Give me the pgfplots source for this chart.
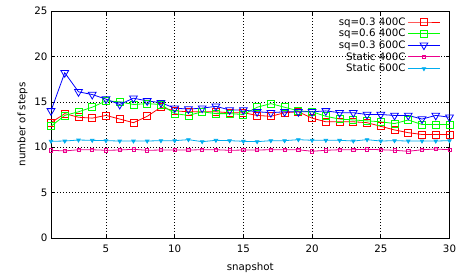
\documentclass[border=0pt]{standalone}
\usepackage{fontspec}
\setmainfont{DejaVu Sans}
\usepackage{pgfplots}
\pgfplotsset{compat=1.18}
\usepackage{pgfplotstable}

\pgfplotstableread{
x red green blue mag cyan
1 12.7 12.3 14.0 9.66 10.65
2 13.7 13.5 18.2 9.59 10.68
3 13.3 13.9 16.1 9.72 10.79
4 13.2 14.4 15.8 9.72 10.76
5 13.5 15.1 15.3 9.66 10.72
6 13.1 15.0 14.7 9.69 10.68
7 12.7 14.7 15.4 9.77 10.68
8 13.4 14.8 15.1 9.66 10.68
9 14.4 14.7 14.9 9.69 10.72
10 14.0 13.7 14.3 9.69 10.72
11 13.9 13.5 14.2 9.69 10.83
12 13.9 13.9 14.3 9.72 10.61
13 13.9 13.7 14.5 9.72 10.76
14 13.8 13.7 14.1 9.66 10.72
15 13.8 13.6 14.1 9.69 10.65
16 13.5 14.4 13.9 9.69 10.61
17 13.4 14.8 13.8 9.72 10.72
18 13.8 14.4 13.9 9.72 10.72
19 13.9 14.0 13.9 9.72 10.83
20 13.2 13.9 13.9 9.55 10.76
21 12.8 13.4 14.0 9.66 10.76
22 12.8 13.1 13.8 9.72 10.76
23 12.8 13.0 13.8 9.72 10.68
24 12.7 12.9 13.6 9.77 10.83
25 12.3 12.8 13.6 9.72 10.68
26 11.9 12.6 13.5 9.66 10.72
27 11.6 13.0 13.5 9.55 10.68
28 11.4 12.5 13.1 9.72 10.68
29 11.4 12.5 13.5 9.80 10.68
30 11.4 12.5 13.3 9.72 10.72
}\data

\begin{document}
\begin{tikzpicture}
\begin{axis}[
  scale only axis, width=398.5bp, height=227bp,
  at={(0,0)}, anchor=south west,
  xmin=1, xmax=30, ymin=0, ymax=25,
  xtick={5,10,...,30}, ytick={0,5,...,25},
  grid=major,
  major grid style={black, dash pattern=on 1bp off 2bp, line width=0.6pt},
  axis line style={black, line width=0.9pt},
  tick style={black, line width=0.6pt}, major tick length=4bp,
  tick align=inside,
  font=\fontsize{10.3}{12}\selectfont,
  /pgf/number format/assume math mode=true,
  xticklabel style={yshift=-3.5bp},
  xlabel={snapshot}, ylabel={number of steps},
  xlabel style={yshift=-3bp},
  legend plot pos=right,
  legend cell align=right,
  legend style={at={(axis description cs:0.985,0.99)}, anchor=north east,
    draw=none, fill=none, row sep=-1.5bp, font=\fontsize{10.3}{12}\selectfont},
  legend image code/.code={\draw[mark repeat=2,mark phase=2] plot coordinates {(0bp,0bp) (16bp,0bp) (32bp,0bp)};},
  every axis plot/.append style={line width=0.8pt},
]
\addplot[red, mark=square, mark size=3.5bp, mark options={solid, line width=0.8pt}] table[x=x,y=red] {\data};
\addlegendentry{sq=0.3 400C}
\addplot[green, mark=square, mark size=3.5bp, mark options={solid, line width=0.8pt}] table[x=x,y=green] {\data};
\addlegendentry{sq=0.6 400C}
\addplot[blue, mark=triangle, mark size=4.5bp, mark options={solid, rotate=180, line width=0.8pt}] table[x=x,y=blue] {\data};
\addlegendentry{sq=0.3 600C}
\addplot[magenta, mark=square, mark size=1.6bp, mark options={solid, line width=0.7pt}] table[x=x,y=mag] {\data};
\addlegendentry{Static 400C}
\addplot[cyan, mark=triangle*, mark size=2bp, mark options={solid, rotate=180}] table[x=x,y=cyan] {\data};
\addlegendentry{Static 600C}
\end{axis}
\pgfresetboundingbox
\useasboundingbox (-51bp,-42bp) rectangle (405bp,238bp);
\end{tikzpicture}
\end{document}
